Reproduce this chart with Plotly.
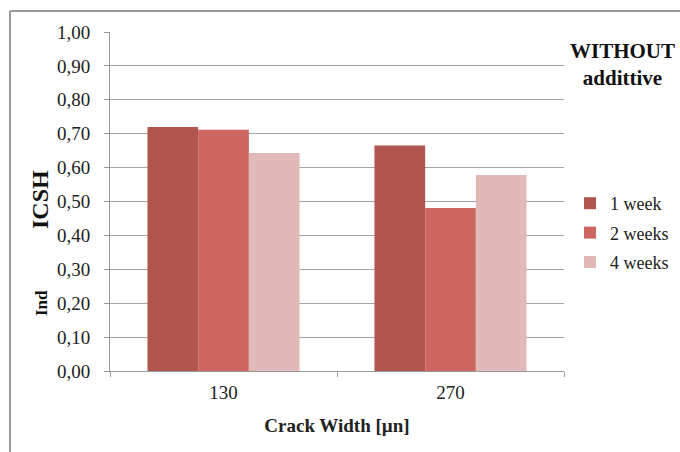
import plotly.graph_objects as go

categories = ["130", "270"]
series_names = ["1 week", "2 weeks", "4 weeks"]
week1 = [0.72, 0.665]
week2 = [0.712, 0.481]
week4 = [0.643, 0.578]
colors = ["#B0564E", "#CD6660", "#E1B9B9"]
y_ticks = [0, 0.1, 0.2, 0.3, 0.4, 0.5, 0.6, 0.7, 0.8, 0.9, 1.0]
y_tick_labels = ["0,00", "0,10", "0,20", "0,30", "0,40", "0,50", "0,60", "0,70", "0,80", "0,90", "1,00"]

FONT = "'Liberation Serif', 'DejaVu Serif', serif"
L, R, T, B = 110, 116, 32, 81
PW = 680 - L - R
PH = 452 - T - B

fig = go.Figure()
for name, vals, c in zip(series_names, [week1, week2, week4], colors):
    fig.add_trace(go.Bar(x=categories, y=vals, name=name, legendgroup=name,
                         marker=dict(color=c, line=dict(width=0))))

fig.update_layout(
    width=680, height=452,
    margin=dict(l=L, r=R, t=T, b=B, autoexpand=False),
    barmode="group", bargap=0.33, bargroupgap=0,
    plot_bgcolor="white", paper_bgcolor="white",
    font=dict(family=FONT, size=18, color="#222"),
    showlegend=True,
    legend=dict(x=(570 - L) / PW, y=(371 - 233) / PH, xanchor="left", yanchor="middle",
                font=dict(family=FONT, size=18, color="#222"), traceorder="grouped",
                itemwidth=30, tracegroupgap=3, bgcolor="rgba(0,0,0,0)"),
    xaxis=dict(type="category", showgrid=False, showline=True, linecolor="#999", linewidth=1,
               ticks="outside", tickson="boundaries", ticklen=5, tickcolor="#999", ticklabelstandoff=4,
               tickfont=dict(family=FONT, size=19, color="#222"),
               title=dict(text="<b>Crack Width [µn]</b>", font=dict(family=FONT, size=19, color="#222"), standoff=16)),
    yaxis=dict(range=[0, 1.0], tickvals=y_ticks, ticktext=y_tick_labels,
               showgrid=True, gridcolor="#A6A6A6", gridwidth=1,
               showline=True, linecolor="#999", linewidth=1,
               ticks="outside", ticklen=5, tickcolor="#999", ticklabelstandoff=10,
               tickfont=dict(family=FONT, size=19, color="#222"), zeroline=False),
)

# outer frame lines (top and left)
fx0 = (10 - L) / PW
fy0 = (371 - 11) / PH
fig.add_shape(type="line", xref="paper", yref="paper", x0=fx0, x1=(690 - L) / PW, y0=fy0, y1=fy0,
              line=dict(color="#999", width=2))
fig.add_shape(type="line", xref="paper", yref="paper", x0=fx0, x1=fx0, y0=fy0, y1=(371 - 460) / PH,
              line=dict(color="#999", width=2))

fig.add_annotation(text="<b>ICSH</b>", xref="paper", yref="paper", x=(40 - L) / PW, y=(371 - 200) / PH,
                   xanchor="center", yanchor="middle",
                   textangle=-90, showarrow=False, font=dict(family=FONT, size=24, color="#111"))
fig.add_annotation(text="<b>Ind</b>", xref="paper", yref="paper", x=(41 - L) / PW, y=(371 - 303) / PH,
                   xanchor="center", yanchor="middle",
                   textangle=-90, showarrow=False, font=dict(family=FONT, size=17, color="#111"))
fig.add_annotation(text="<b>WITHOUT<br>addittive</b>", xref="paper", yref="paper", x=(622 - L) / PW,
                   y=(371 - 64) / PH, xanchor="center", yanchor="middle", showarrow=False, align="center",
                   font=dict(family=FONT, size=21, color="#111"))

fig.write_html("out.html")
